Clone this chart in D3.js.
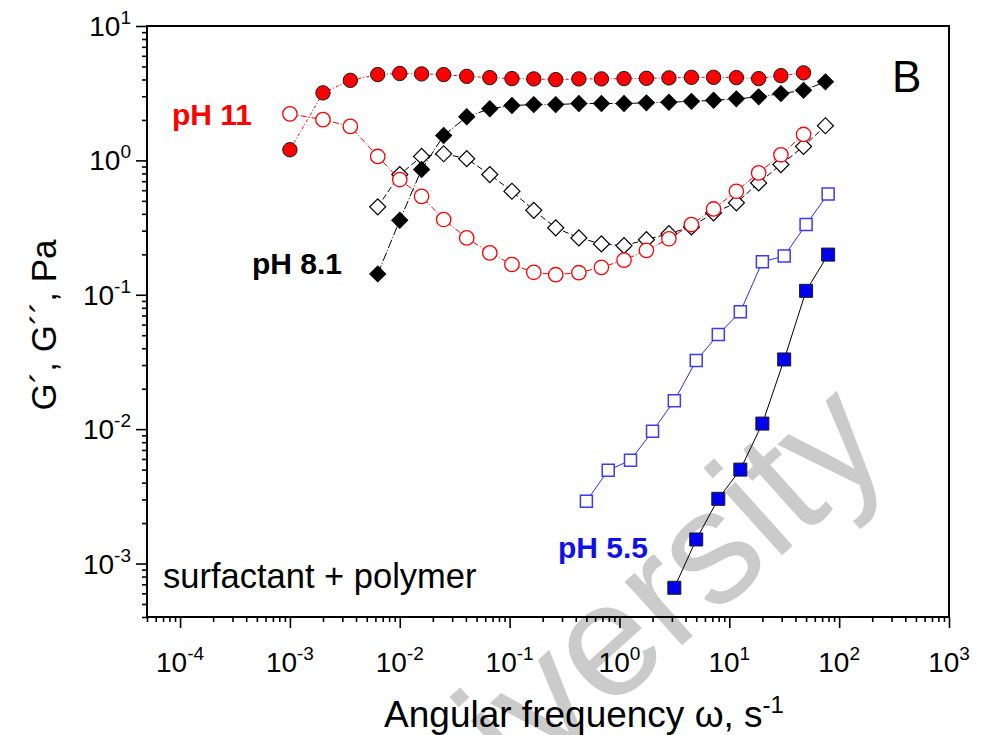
<!DOCTYPE html>
<html><head><meta charset="utf-8">
<script src="https://cdn.jsdelivr.net/npm/d3@7"></script>
<style>body{margin:0;background:#fff} svg{display:block;font-family:"Liberation Sans",Arial,sans-serif}</style>
</head><body>
<svg id="chart" width="981" height="735"></svg>
<script>
// ---- data ----
const omega11 = [0.001,0.002,0.00355,0.0063,0.01,0.0158,0.0251,0.0407,0.066,0.105,0.166,0.263,0.427,0.685,1.10,1.76,2.82,4.52,7.19,11.6,18.5,29.5,47.4];
const Gp11  = [1.20,3.18,3.94,4.35,4.43,4.40,4.35,4.22,4.13,4.06,4.04,3.99,4.04,4.04,4.06,4.08,4.11,4.15,4.15,4.13,4.06,4.27,4.48];
const Gpp11 = [2.22,2.01,1.79,1.07,0.72,0.54,0.363,0.265,0.205,0.168,0.147,0.141,0.146,0.160,0.181,0.214,0.261,0.333,0.435,0.589,0.807,1.10,1.56];

const omega81 = [0.0063,0.01,0.0158,0.0251,0.0407,0.066,0.105,0.166,0.263,0.427,0.685,1.10,1.76,2.82,4.52,7.19,11.6,18.5,29.5,47.4,75];
const Gp81  = [0.143,0.358,0.855,1.53,2.11,2.42,2.56,2.60,2.60,2.65,2.65,2.65,2.68,2.71,2.75,2.80,2.87,2.97,3.14,3.32,3.84];
const Gpp81 = [0.451,0.784,1.07,1.12,1.03,0.784,0.589,0.425,0.315,0.265,0.239,0.232,0.257,0.285,0.320,0.407,0.483,0.680,0.93,1.27,1.81];

const omega55pp = [0.5,0.79,1.26,2.0,3.16,5.0,7.94,12.6,20,31.6,50,79.4];
const Gpp55 = [0.00291,0.00494,0.00587,0.00964,0.0163,0.0324,0.0506,0.0746,0.176,0.194,0.333,0.563];
const omega55p = [3.16,5.0,7.94,12.6,20,31.6,50,79.4];
const Gp55  = [0.00066,0.00151,0.00303,0.0050,0.0110,0.0330,0.107,0.199];

const xExponents = [-4,-3,-2,-1,0,1,2,3];
const yExponents = [-3,-2,-1,0,1];

// ---- layout ----
const svg = d3.select("#chart");
const L = 147, R = 949, T = 26, B = 617;
const x = d3.scaleLog().domain([5e-5, 1000]).range([L, R]);
const y = d3.scaleLog().domain([4e-4, 10]).range([B, T]);

// watermark (behind everything)
svg.append("text")
  .attr("transform", "translate(366,930) rotate(-42)")
  .attr("font-size", 162).attr("fill", "#cbcbcb")
  .text("University");

// minor/major ticks
function ticksFor(lo, hi) {
  const major = [], minor = [];
  for (let e = Math.floor(Math.log10(lo)); e <= Math.ceil(Math.log10(hi)); e++) {
    for (let m = 1; m <= 9; m++) {
      const v = m * Math.pow(10, e);
      if (v < lo * 0.999 || v > hi * 1.001) continue;
      (m === 1 ? major : minor).push(v);
    }
  }
  return {major, minor};
}
const xt = ticksFor(5e-5, 1000), yt = ticksFor(4e-4, 10);

const gx = svg.append("g").attr("transform", `translate(0,${B})`);
gx.call(d3.axisBottom(x).tickValues(xt.major).tickSize(11).tickFormat(""));
gx.append("g").call(d3.axisBottom(x).tickValues(xt.minor).tickSize(5).tickFormat(""));
const gy = svg.append("g").attr("transform", `translate(${L},0)`);
gy.call(d3.axisLeft(y).tickValues(yt.major).tickSize(11).tickFormat(""));
gy.append("g").call(d3.axisLeft(y).tickValues(yt.minor).tickSize(5).tickFormat(""));
svg.selectAll(".domain").remove();
svg.selectAll(".tick line").attr("stroke", "#000").attr("stroke-width", 1.6);

// frame
svg.append("rect").attr("x", L).attr("y", T).attr("width", R - L).attr("height", B - T)
  .attr("fill", "none").attr("stroke", "#000").attr("stroke-width", 2);

// tick labels with superscripts
xExponents.forEach(e => {
  const t = svg.append("text").attr("x", x(Math.pow(10, e))).attr("y", 672)
    .attr("text-anchor", "middle").attr("font-size", 28);
  t.append("tspan").text("10");
  t.append("tspan").attr("dy", -12).attr("font-size", 19).text(String(e));
});
yExponents.forEach(e => {
  const t = svg.append("text").attr("x", 131).attr("y", y(Math.pow(10, e)) + 10)
    .attr("text-anchor", "end").attr("font-size", 28);
  t.append("tspan").text("10");
  t.append("tspan").attr("dy", -12).attr("font-size", 19).text(String(e));
});

// axis titles
const xl = svg.append("text").attr("x", 584).attr("y", 727).attr("text-anchor", "middle").attr("font-size", 37);
xl.append("tspan").text("Angular frequency ω, s");
xl.append("tspan").attr("dy", -14).attr("font-size", 24).text("-1");
svg.append("text").attr("transform", "translate(56,325) rotate(-90)")
  .attr("text-anchor", "middle").attr("font-size", 35).text("G´, G´´, Pa");

// series
const line = d3.line().x(d => x(d[0])).y(d => y(d[1]));
const zip = (a, b) => a.map((v, i) => [v, b[i]]);
const series = [
  {pts: zip(omega81, Gpp81), stroke: "#000", dash: "6,3", sym: "diamond", fill: "#fff", ms: "#000"},
  {pts: zip(omega11, Gpp11), stroke: "#ff0000", dash: "6,2,1,2", sym: "circle", fill: "#fff", ms: "#ff0000"},
  {pts: zip(omega81, Gp81), stroke: "#000", dash: "9,2,1,2", sym: "diamond", fill: "#000", ms: "#000"},
  {pts: zip(omega11, Gp11), stroke: "#ff0000", dash: "3,2,1,2", sym: "circle", fill: "#ff0000", ms: "#1a1a1a"},
  {pts: zip(omega55pp, Gpp55), stroke: "#2a2aff", dash: null, sym: "square", fill: "#fff", ms: "#3b3bff"},
  {pts: zip(omega55p, Gp55), stroke: "#000", dash: null, sym: "square", fill: "#0000ee", ms: "#1a1a1a"}
];
series.forEach(s => {
  svg.append("path").attr("d", line(s.pts)).attr("fill", "none")
    .attr("stroke", s.stroke).attr("stroke-width", 1).attr("stroke-dasharray", s.dash);
});
series.forEach(s => {
  const g = svg.append("g");
  s.pts.forEach(p => {
    const cx = x(p[0]), cy = y(p[1]);
    if (s.sym === "circle") {
      g.append("circle").attr("cx", cx).attr("cy", cy).attr("r", 7.2)
        .attr("fill", s.fill).attr("stroke", s.ms).attr("stroke-width", s.fill === "#fff" ? 1.3 : 1);
    } else if (s.sym === "diamond") {
      g.append("path").attr("d", d3.symbol(d3.symbolSquare, 128)())
        .attr("transform", `translate(${cx},${cy}) rotate(45)`)
        .attr("fill", s.fill).attr("stroke", s.ms).attr("stroke-width", s.fill === "#fff" ? 1.2 : 1);
    } else {
      const sz = s.fill === "#fff" ? 144 : 169;
      g.append("path").attr("d", d3.symbol(d3.symbolSquare, sz)())
        .attr("transform", `translate(${cx},${cy})`)
        .attr("fill", s.fill).attr("stroke", s.ms).attr("stroke-width", s.fill === "#fff" ? 1.5 : 1);
    }
  });
});

// annotations
svg.append("text").attr("x", 172).attr("y", 125).attr("font-size", 30).attr("font-weight", "bold").attr("fill", "#ff0000").text("pH 11");
svg.append("text").attr("x", 252).attr("y", 274).attr("font-size", 30).attr("font-weight", "bold").attr("fill", "#000").text("pH 8.1");
svg.append("text").attr("x", 558).attr("y", 558).attr("font-size", 30).attr("font-weight", "bold").attr("fill", "#1010ee").text("pH 5.5");
svg.append("text").attr("x", 163).attr("y", 588).attr("font-size", 34.5).attr("fill", "#000").text("surfactant + polymer");
svg.append("text").attr("x", 892).attr("y", 92).attr("font-size", 44).attr("fill", "#000").text("B");
</script>
</body></html>
